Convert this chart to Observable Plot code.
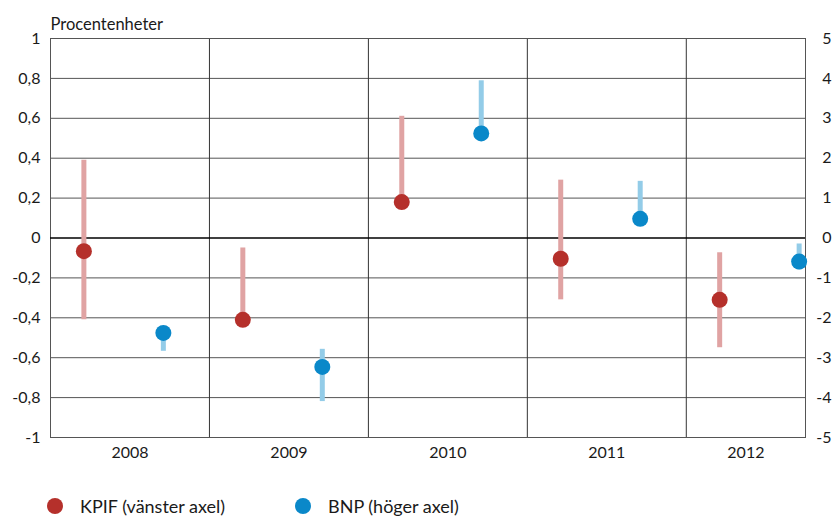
<!DOCTYPE html>
<html>
<head>
<meta charset="utf-8">
<script src="https://cdn.jsdelivr.net/npm/d3@7"></script>
<script src="https://cdn.jsdelivr.net/npm/@observablehq/plot@0.6"></script>
<style>
  body { margin: 0; background: #fff; font-family: Lato, "Open Sans", sans-serif; color: #1a1a1a; }
  #legend { position: relative; height: 47px; font-size: 18px; }
  .item { position: absolute; top: 25px; display: flex; align-items: center; }
  .dot { width: 16px; height: 16px; border-radius: 50%; display: inline-block; margin-right: 17px; }
</style>
</head>
<body>
<div id="chart"></div>
<div id="legend">
  <div class="item" style="left:47px"><span class="dot" style="background:#b5302b"></span>KPIF (vänster axel)</div>
  <div class="item" style="left:295px"><span class="dot" style="background:#0a88c9"></span>BNP (höger axel)</div>
</div>
<script>
// Data
const years = [2008, 2009, 2010, 2011, 2012];
const kpif     = [-0.066, -0.41, 0.18, -0.104, -0.31];
const kpifLow  = [-0.41, -0.41, 0.18, -0.31, -0.55];
const kpifHigh = [0.39, -0.05, 0.61, 0.29, -0.074];
const bnp      = [-2.38, -3.23, 2.62, 0.48, -0.59];
const bnpLow   = [-2.84, -4.1, 2.62, 0.48, -0.8];
const bnpHigh  = [-2.38, -2.79, 3.94, 1.42, -0.15];
const leftTicks  = [-1, -0.8, -0.6, -0.4, -0.2, 0, 0.2, 0.4, 0.6, 0.8, 1];
const rightTicks = [-5, -4, -3, -2, -1, 0, 1, 2, 3, 4, 5];
const yearLabels = ["2008", "2009", "2010", "2011", "2012"];
const yLabel = "Procentenheter";

const KPIF_OFF = 0.21, BNP_OFF = 0.71, XMAX = 2012.75, SCALE = 5;
const kData = years.map((y, i) => ({x: y + KPIF_OFF, v: kpif[i], lo: kpifLow[i], hi: kpifHigh[i]}));
const bData = years.map((y, i) => ({x: y + BNP_OFF, v: bnp[i] / SCALE, lo: bnpLow[i] / SCALE, hi: bnpHigh[i] / SCALE}));
const labelPos = years.map((y, i) => ({x: (y + Math.min(y + 1, XMAX)) / 2, t: yearLabels[i]}));
const fmt = d => String(d).replace(".", ",");

const chart = Plot.plot({
  width: 832,
  height: 470,
  marginTop: 38,
  marginLeft: 50,
  marginRight: 27,
  marginBottom: 33,
  style: {fontFamily: "Lato, 'Open Sans', sans-serif", fontSize: "16px", color: "#1a1a1a"},
  x: {domain: [2008, XMAX], axis: null},
  y: {domain: [-1, 1], axis: null},
  marks: [
    Plot.ruleY(leftTicks.filter(d => d !== 0), {stroke: "#555", strokeWidth: 1}),
    Plot.ruleX(years.slice(1), {stroke: "#333", strokeWidth: 1}),
    Plot.frame({stroke: "#555", strokeWidth: 1}),
    Plot.ruleY([0], {stroke: "#000", strokeWidth: 1.5}),
    Plot.ruleX(kData, {x: "x", y1: "lo", y2: "hi", stroke: "#e0a3a3", strokeWidth: 5}),
    Plot.ruleX(bData, {x: "x", y1: "lo", y2: "hi", stroke: "#93cce8", strokeWidth: 5}),
    Plot.dot(kData, {x: "x", y: "v", r: 8, fill: "#b5302b"}),
    Plot.dot(bData, {x: "x", y: "v", r: 8, fill: "#0a88c9"}),
    // left axis labels
    Plot.text(leftTicks, {y: d => d, text: fmt, frameAnchor: "left", textAnchor: "end", dx: -10, fontSize: 16}),
    // right axis labels
    Plot.text(rightTicks, {y: d => d / SCALE, text: d => String(d), frameAnchor: "right", textAnchor: "end", dx: 26, fontSize: 16}),
    // year labels
    Plot.text(labelPos, {x: "x", text: "t", frameAnchor: "bottom", dy: 20, fontSize: 16}),
    // axis title
    Plot.text([yLabel], {frameAnchor: "top-left", textAnchor: "start", dy: -20, dx: 0, fontSize: 16.5})
  ]
});
document.getElementById("chart").appendChild(chart);
</script>
</body>
</html>
